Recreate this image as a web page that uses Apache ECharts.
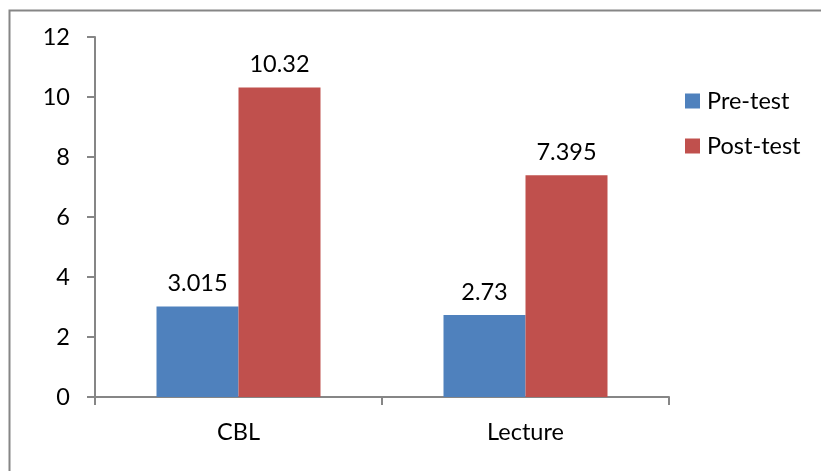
<!DOCTYPE html>
<html>
<head>
<meta charset="utf-8">
<script src="https://cdn.jsdelivr.net/npm/echarts@6/dist/echarts.min.js"></script>
<style>
  html, body { margin: 0; padding: 0; background: #fff; }
  #main { width: 821px; height: 471px; }
</style>
</head>
<body>
<div id="main"></div>
<script>
const categories = ['CBL', 'Lecture'];
const preTest = [3.015, 2.73];
const postTest = [10.32, 7.395];
const yTicks = [0, 2, 4, 6, 8, 10, 12];

const chart = echarts.init(document.getElementById('main'));
const font = 'Lato, "Open Sans", "Liberation Sans", sans-serif';
const fs = 23.5;

const option = {
    animation: false,
    graphic: [{
        type: 'rect',
        shape: { x: 9.5, y: 10.5, width: 900, height: 600 },
        style: { fill: null, stroke: '#868686', lineWidth: 2 },
        silent: true
    }],
    grid: {
        left: 95,
        right: 152,
        top: 37,
        bottom: 74
    },
    legend: {
        orient: 'vertical',
        left: 680,
        top: 84,
        itemWidth: 15,
        itemHeight: 15,
        itemGap: 21,
        icon: 'rect',
        textStyle: { fontFamily: font, fontSize: fs, color: '#000', lineHeight: 15, padding: [0, 0, 0, 2] },
        data: ['Pre-test', 'Post-test']
    },
    xAxis: {
        type: 'category',
        data: categories,
        axisLine: { lineStyle: { color: '#868686', width: 2 } },
        axisTick: { show: true, length: 8, alignWithLabel: false, lineStyle: { color: '#868686', width: 2 } },
        axisLabel: { fontFamily: font, fontSize: fs, color: '#000', margin: 23 }
    },
    yAxis: {
        type: 'value',
        min: yTicks[0],
        max: yTicks[yTicks.length - 1],
        interval: 2,
        splitLine: { show: false },
        axisLine: { show: true, lineStyle: { color: '#868686', width: 2 } },
        axisTick: { show: true, length: 8, lineStyle: { color: '#868686', width: 2 } },
        axisLabel: { fontFamily: font, fontSize: fs, color: '#000', margin: 25 }
    },
    series: [
        {
            name: 'Pre-test',
            type: 'bar',
            data: preTest,
            barWidth: 82,
            barGap: '0%',
            itemStyle: { color: '#4F81BD' },
            label: { show: true, position: 'top', distance: 11, fontFamily: font, fontSize: fs, color: '#000' }
        },
        {
            name: 'Post-test',
            type: 'bar',
            data: postTest,
            barWidth: 82,
            barGap: '0%',
            itemStyle: { color: '#C0504D' },
            label: { show: true, position: 'top', distance: 11, fontFamily: font, fontSize: fs, color: '#000' }
        }
    ]
};

chart.setOption(option);
</script>
</body>
</html>
